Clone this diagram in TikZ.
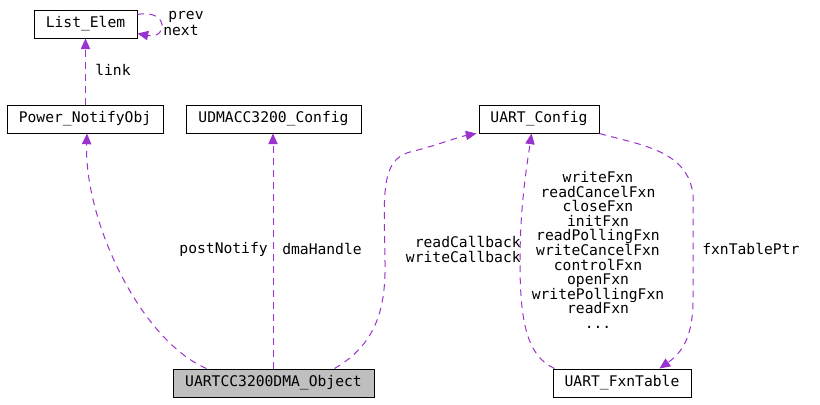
\documentclass[tikz,border=0pt]{standalone}
\usepackage{fontspec}
\setmonofont{DejaVu Sans Mono}
\usetikzlibrary{arrows.meta,calc}
\definecolor{edgecol}{RGB}{154,50,205}
\definecolor{objfill}{RGB}{191,191,191}
\tikzset{
  box/.style={draw=black, line width=0.75pt, minimum height=21pt, inner sep=0pt, font=\ttfamily\fontsize{11}{14}\selectfont},
  rel/.style={draw=edgecol, line width=0.75pt, dash pattern=on 5pt off 4pt, -{Triangle[length=8pt,width=7pt]}, color=edgecol},
  lbl/.style={inner sep=0pt, font=\ttfamily\fontsize{11}{11}\selectfont}
}
\begin{document}
\begin{tikzpicture}[x=0.75pt,y=-0.75pt]
\useasboundingbox (0,0) rectangle (820,404);
% nodes
\node[box, minimum width=77.25pt] (le) at (85.5,24) {List\_Elem};
\node[box, minimum width=117pt] (pno) at (85,119) {Power\_NotifyObj};
\node[box, minimum width=131.25pt] (udma) at (273.5,119) {UDMACC3200\_Config};
\node[box, minimum width=90pt] (uc) at (539,119) {UART\_Config};
\node[box, minimum width=103.5pt] (uft) at (622,383) {UART\_FxnTable};
\node[box, minimum width=150.75pt, fill=objfill] (obj) at (273.5,383) {UARTCC3200DMA\_Object};
% self loop prev/next
\draw[rel] ($(le.north east)+(0,5)$) .. controls +(31,-6) and +(31,6) .. ($(le.south east)+(0,-5)$);
\node[lbl, anchor=west] (lprev) at (168,17) {prev};
\node[lbl, anchor=west] (lnext) at (163,30) {next};
% link
\draw[rel] ($(pno.north)+(0.5,0)$) -- ($(le.south)+(0,0)$);
\node[lbl, anchor=west] (llink) at (95,70) {link};
% postNotify
\draw[rel] ($(obj.north west)+(34,0)$) .. controls (140,340) and (84,220) .. ($(pno.south)+(2,0)$);
\node[lbl, anchor=east] (lpost) at (268,249) {postNotify};
% dmaHandle
\draw[rel] ($(obj.north)+(-0.5,0)$) -- ($(udma.south)+(-0.5,0)$);
\node[lbl, anchor=west] (ldma) at (282,249) {dmaHandle};
% readCallback / writeCallback
\coordinate (rc1) at (385,262);
\coordinate (rc2) at (410,152);
\draw[rel] ($(obj.north west)+(162,0)$) .. controls (375,345) and (386,310) .. (rc1)
  .. controls (384,195) and (380,160) .. (rc2)
  .. controls (435,146) and (458,137) .. ($(uc.south west)+(-2,0)$);
\node[lbl, anchor=east, align=right, font=\ttfamily\fontsize{11}{11.25}\selectfont] (lcb) at (521,249.5) {readCallback\\writeCallback};
% function pointers
\coordinate (fx1) at (520,262);
\draw[rel] ($(uft.north west)+(2,0)$) .. controls (527,356) and (520,322) .. (fx1)
  .. controls (520,205) and (527,165) .. ($(uc.south west)+(53,0)$);
\node[lbl, align=center, font=\ttfamily\fontsize{11}{10.95}\selectfont] (lfx) at (598,250) {writeFxn\\readCancelFxn\\closeFxn\\initFxn\\readPollingFxn\\writeCancelFxn\\controlFxn\\openFxn\\writePollingFxn\\readFxn\\...};
% fxnTablePtr
\coordinate (fp1) at (693,195);
\coordinate (fp2) at (693,300);
\draw[rel] (uc.south east) .. controls (640,145) and (688,150) .. (fp1)
  -- (fp2) .. controls (693,335) and (683,352) .. ($(uft.north west)+(107,0)$);
\node[lbl, anchor=west] (lptr) at (702,249) {fxnTablePtr};
\end{tikzpicture}
\end{document}
